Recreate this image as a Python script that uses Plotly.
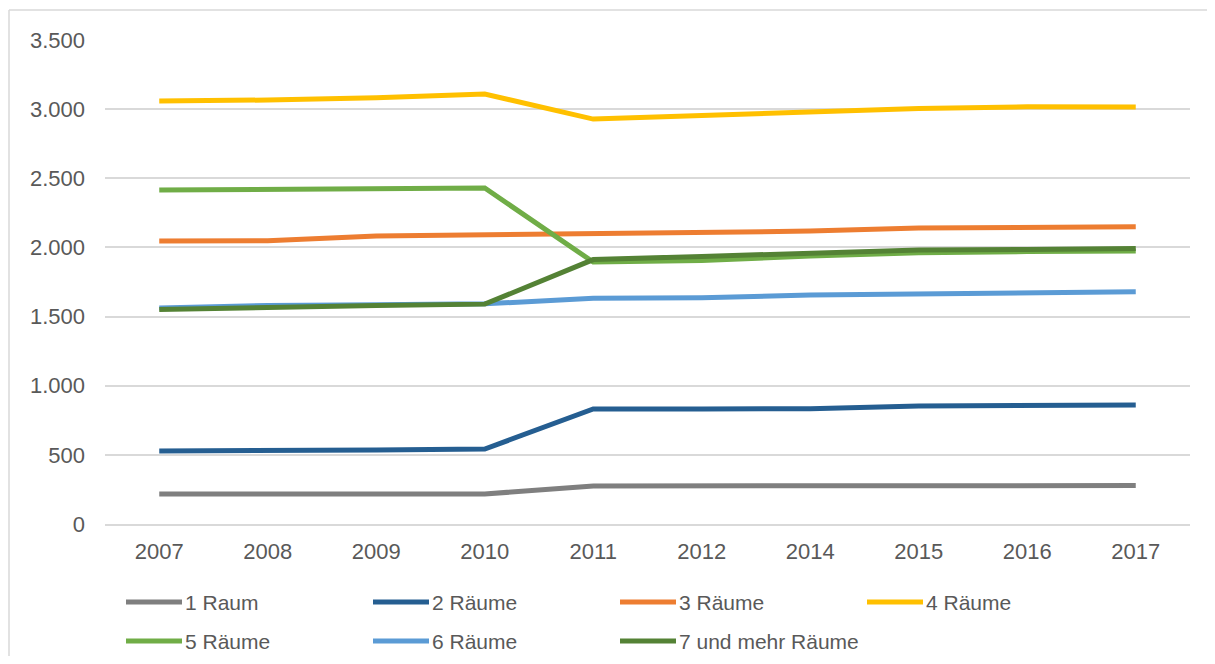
import plotly.graph_objects as go

years = ["2007", "2008", "2009", "2010", "2011", "2012", "2014", "2015", "2016", "2017"]

raum_1 = [217, 217, 217, 217, 275, 275, 275, 275, 277, 278]
raeume_2 = [528, 528, 535, 542, 832, 832, 834, 853, 855, 860]
raeume_3 = [2046, 2048, 2082, 2090, 2097, 2104, 2118, 2140, 2147, 2150]
raeume_4 = [3059, 3066, 3082, 3109, 2928, 2955, 2975, 3005, 3017, 3015]
raeume_5 = [2415, 2417, 2424, 2430, 1894, 1905, 1938, 1962, 1970, 1975]
raeume_6 = [1562, 1580, 1585, 1592, 1632, 1636, 1656, 1665, 1672, 1680]
raeume_7 = [1552, 1569, 1580, 1590, 1912, 1935, 1962, 1981, 1985, 1993]

series_names = ["1 Raum", "2 Räume", "3 Räume", "4 Räume", "5 Räume", "6 Räume", "7 und mehr Räume"]
series_values = [raum_1, raeume_2, raeume_3, raeume_4, raeume_5, raeume_6, raeume_7]
series_colors = ["#7F7F7F", "#255E91", "#ED7D31", "#FFC000", "#70AD47", "#5B9BD5", "#548235"]

OFF = 8  # default page body margin
W, H = 1215 - OFF, 664 - 2 * OFF
PL, PR, PT, PB = 105, 1190, 40, 524  # plot area in screen pixels
ML, MR, MT, MB = PL - OFF, W - (PR - OFF), PT - OFF, H - (PB - OFF)
PW = PR - PL
PH = PB - PT


def px_x(px):
    return (px - PL) / PW


def px_y(py):
    return (PB - py) / PH


fig = go.Figure()
for name, vals, col in zip(series_names, series_values, series_colors):
    fig.add_trace(go.Scatter(
        x=years, y=vals, name=name, mode="lines",
        line=dict(color=col, width=5),
        showlegend=False,
    ))

text_col = "#595959"
font_family = "Liberation Sans, Arial, sans-serif"

shapes = []
annotations = []
# custom legend (4 columns, 2 rows)
for i, (name, col) in enumerate(zip(series_names, series_colors)):
    c, r = i % 4, i // 4
    x0 = 126 + c * 247
    yy = 602 + r * 39
    shapes.append(dict(type="line", xref="paper", yref="paper",
                       x0=px_x(x0), x1=px_x(x0 + 56), y0=px_y(yy), y1=px_y(yy),
                       line=dict(color=col, width=5)))
    annotations.append(dict(xref="paper", yref="paper", x=px_x(x0 + 57), y=px_y(yy),
                            xanchor="left", yanchor="middle", showarrow=False,
                            text=name, font=dict(size=21, color=text_col, family=font_family)))

# outer chart border (top and left edges visible)
border = dict(color="#D9D9D9", width=1.5)
shapes.append(dict(type="line", xref="paper", yref="paper",
                   x0=px_x(9), x1=px_x(1215), y0=px_y(10), y1=px_y(10),
                   line=border, layer="below"))
shapes.append(dict(type="line", xref="paper", yref="paper",
                   x0=px_x(9), x1=px_x(9), y0=px_y(10), y1=px_y(664),
                   line=border, layer="below"))

fig.update_layout(
    width=W, height=H,
    margin=dict(l=ML, r=MR, t=MT, b=MB),
    paper_bgcolor="white", plot_bgcolor="white",
    separators=",.",
    font=dict(family=font_family, size=22, color=text_col),
    shapes=shapes,
    annotations=annotations,
    showlegend=False,
    xaxis=dict(
        type="category", range=[-0.5, 9.5],
        showgrid=False, showline=True, linecolor="#D9D9D9", linewidth=1.5,
        ticks="", tickfont=dict(size=22, color=text_col),
        ticklabelstandoff=7,
    ),
    yaxis=dict(
        range=[0, 3500], dtick=500, tickformat=",d",
        showgrid=True, gridcolor="#D9D9D9", gridwidth=1.5,
        zeroline=True, zerolinecolor="#D9D9D9", zerolinewidth=1.5,
        showline=False, ticks="", tickfont=dict(size=22, color=text_col),
        ticklabelstandoff=19,
    ),
)

fig.write_html("out.html")
